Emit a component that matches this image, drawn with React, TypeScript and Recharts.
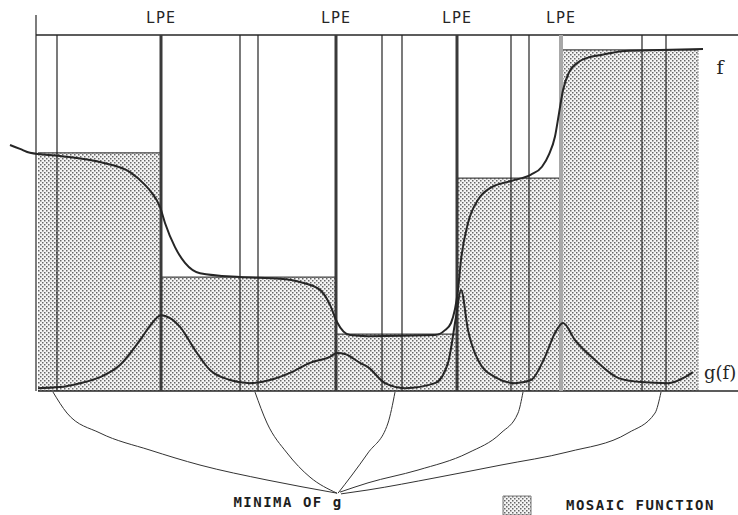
import React from "react";
import {
  ComposedChart,
  Area,
  Line,
  XAxis,
  YAxis,
  ReferenceLine,
  ReferenceDot,
  ReferenceArea,
} from "recharts";

// x = position along the profile (samples), y = level in % of the frame height
const fCurve = [
  [-26, 69.1], [-16, 68.0], [-6, 66.9], [24, 66.0], [64, 64.3], [94, 61.5],
  [109, 57.9], [116, 55.6], [124, 51.7], [129, 47.2], [139, 40.4], [149, 36.0],
  [164, 33.1], [204, 32.0], [244, 31.5], [264, 30.6], [284, 28.4], [294, 24.2],
  [301, 19.4], [314, 15.7], [332, 15.4], [399, 15.7], [409, 17.1], [415, 19.1],
  [422, 28.4], [425, 36.8], [432, 47.2], [442, 53.7], [454, 57.0], [475, 59.0],
  [495, 60.8], [506, 63.0], [513, 66.5], [519, 71.5], [523, 78.0], [527, 84.5],
  [533, 89.5], [542, 92.3], [554, 93.8], [565, 94.4], [589, 95.5], [624, 95.8], [667, 96.1],
];

const gCurve = [
  [2, 0.8], [24, 1.1], [44, 2.2], [64, 3.9], [84, 7.3], [104, 14.3], [114, 18.3],
  [125, 21.3], [134, 20.5], [144, 18.0], [159, 11.5], [174, 5.9], [194, 3.1],
  [214, 2.2], [234, 3.1], [254, 5.1], [274, 7.9], [294, 9.6], [301, 10.7],
  [309, 10.4], [324, 7.9], [332, 6.7], [349, 2.2], [369, 0.8], [399, 2.2],
  [412, 7.9], [420, 20.8], [425, 28.4], [432, 17.1], [442, 8.7], [459, 3.9],
  [479, 2.2], [495, 3.1], [509, 9.6], [519, 16.3], [527, 19.1], [539, 14.3],
  [559, 8.7], [582, 3.7], [605, 2.5], [632, 2.2], [649, 3.9], [657, 5.3],
];

// mosaic function: region start -> level (last entry closes the last region)
const mosaicStarts = [2, 125, 300, 421, 525, 662];
const mosaicLevels = [66.9, 32.0, 16.0, 59.8, 95.8, 95.8];

const lpePositions = [125, 300, 421];
const lpeLastPosition = 525;
const thinLines = [21, 204, 222, 346, 366, 475, 493, 606, 630];

// curves from each minimum of g to the caption
const minimaLinks = [
  [[17, -0.3], [31, -6.2], [64, -11.8], [114, -16.6], [164, -20.8], [231, -25.0], [301, -28.7]],
  [[219, -0.3], [231, -9.0], [251, -17.4], [274, -24.2], [301, -28.7]],
  [[302, -28.7], [316, -23.6], [332, -17.4], [352, -9.0], [359, -0.3]],
  [[304, -28.4], [332, -25.8], [382, -22.2], [432, -17.4], [465, -11.8], [482, -6.2], [487, -0.3]],
  [[305, -28.9], [332, -27.8], [399, -24.4], [465, -20.8], [532, -17.1], [592, -11.8], [619, -6.2], [625, -0.3]],
];

const PX_PER_LEVEL = 3.56;
const X_MIN = -36;
const X_MAX = 702;
const Y_MAX = 100 + 35 / PX_PER_LEVEL;
const Y_MIN = -124 / PX_PER_LEVEL;

const mono = "DejaVu Sans Mono";
const ink = "#262626";

const lpeLabel = {
  value: "LPE",
  position: "top" as const,
  offset: 12,
  fill: ink,
  fontSize: 15,
  fontFamily: mono,
  letterSpacing: 1,
};

const toRows = (pts: number[][]) => pts.map(([x, v]) => ({ x, v }));

export default function App() {
  const mosaicData = mosaicStarts.map((x, i) => ({ x, m: mosaicLevels[i] }));
  const rightEdge = mosaicStarts[mosaicStarts.length - 1];

  return (
    <div style={{ position: "absolute", left: 0, top: 0, background: "#fff" }}>
      <ComposedChart width={738} height={515} margin={{ top: 0, right: 0, bottom: 0, left: 0 }}>
        <defs>
          <pattern id="stipple" width="4" height="4" patternUnits="userSpaceOnUse">
            <rect width="4" height="4" fill="#f4f4f4" />
            <rect x="0" y="0" width="1.5" height="1.5" fill="#666" />
            <rect x="2" y="2" width="1.5" height="1.5" fill="#666" />
          </pattern>
        </defs>
        <XAxis type="number" dataKey="x" domain={[X_MIN, X_MAX]} hide allowDataOverflow />
        <YAxis type="number" domain={[Y_MIN, Y_MAX]} hide allowDataOverflow />

        <Area
          data={mosaicData}
          dataKey="m"
          type="stepAfter"
          baseValue={0}
          fill="url(#stipple)"
          fillOpacity={1}
          stroke="#444"
          strokeWidth={1.2}
          dot={false}
          activeDot={false}
          isAnimationActive={false}
        />
        <ReferenceLine
          segment={[{ x: rightEdge, y: 0 }, { x: rightEdge, y: mosaicLevels[mosaicLevels.length - 1] }]}
          stroke="#888"
          strokeWidth={1}
          strokeDasharray="2 1"
        />

        {thinLines.map((x) => (
          <ReferenceLine key={x} segment={[{ x, y: 0 }, { x, y: 100 }]} stroke="#222" strokeWidth={1.2} />
        ))}

        {/* frame */}
        <ReferenceLine segment={[{ x: 0, y: 0 }, { x: 0, y: 105.6 }]} stroke={ink} strokeWidth={1.2} />
        <ReferenceLine segment={[{ x: 0, y: 100 }, { x: X_MAX, y: 100 }]} stroke={ink} strokeWidth={1.5} />
        <ReferenceLine segment={[{ x: 2, y: 0 }, { x: X_MAX, y: 0 }]} stroke={ink} strokeWidth={1.5} />

        {lpePositions.map((x) => (
          <ReferenceLine key={x} segment={[{ x, y: 0 }, { x, y: 100 }]} stroke="#3a3a3a" strokeWidth={3} label={lpeLabel} />
        ))}
        <ReferenceLine
          segment={[{ x: lpeLastPosition, y: 0 }, { x: lpeLastPosition, y: 100 }]}
          stroke="#a8a8a8"
          strokeWidth={4}
          label={lpeLabel}
        />

        <Line data={toRows(fCurve)} dataKey="v" type="monotone" stroke={ink} strokeWidth={2} dot={false} activeDot={false} isAnimationActive={false} />
        <Line data={toRows(gCurve)} dataKey="v" type="monotone" stroke={ink} strokeWidth={2} dot={false} activeDot={false} isAnimationActive={false} />

        {minimaLinks.map((pts, i) => (
          <Line
            key={i}
            data={toRows(pts)}
            dataKey="v"
            type="monotone"
            stroke="#333"
            strokeWidth={1}
            dot={false}
            activeDot={false}
            isAnimationActive={false}
          />
        ))}

        <ReferenceDot
          x={684}
          y={91}
          r={0}
          fill="none"
          stroke="none"
          label={{ value: "f", position: "center", fill: ink, fontSize: 19, fontFamily: "DejaVu Serif" }}
        />
        <ReferenceDot
          x={668}
          y={5.3}
          r={0}
          fill="none"
          stroke="none"
          label={{ value: "g(f)", position: "right", offset: 0, fill: ink, fontSize: 18, fontFamily: "DejaVu Serif" }}
        />
        <ReferenceDot
          x={252}
          y={-31.3}
          r={0}
          fill="none"
          stroke="none"
          label={{ value: "MINIMA OF g", position: "center", fill: "#1e1e1e", fontSize: 14, fontWeight: "bold", fontFamily: mono, letterSpacing: 1.5 }}
        />
        <ReferenceArea
          x1={467}
          x2={495}
          y1={-29.5}
          y2={Y_MIN}
          fill="url(#stipple)"
          fillOpacity={1}
          stroke="#777"
          strokeWidth={1}
          ifOverflow="hidden"
          label={{ value: "MOSAIC FUNCTION", position: "right", offset: 35, fill: "#1e1e1e", fontSize: 14, fontWeight: "bold", fontFamily: mono, letterSpacing: 1.5 }}
        />
      </ComposedChart>
    </div>
  );
}
